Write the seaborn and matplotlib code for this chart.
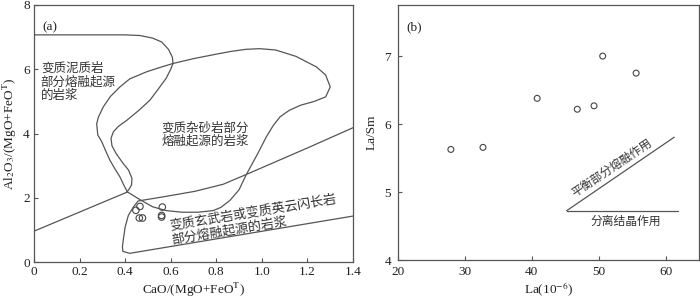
import numpy as np
import matplotlib
matplotlib.use("Agg")
import matplotlib.pyplot as plt
import seaborn as sns
import pandas as pd

# ---- panel (a): CaO/(MgO+FeOT) vs Al2O3/(MgO+FeOT) ----
ca_ratio = [0.447, 0.465, 0.462, 0.476, 0.563, 0.560, 0.560]
al_ratio = [1.61, 1.73, 1.37, 1.37, 1.71, 1.45, 1.40]

# field boundaries
pelite_x = [0.0, 0.20, 0.40, 0.465, 0.52, 0.56, 0.59, 0.607, 0.61, 0.60, 0.58, 0.545,
            0.509, 0.46, 0.407, 0.37, 0.348, 0.338, 0.342, 0.36, 0.39, 0.415, 0.43,
            0.428, 0.415, 0.407]
pelite_y = [7.07, 7.07, 7.07, 7.05, 6.97, 6.85, 6.62, 6.38, 6.18, 6.0, 5.72, 5.38,
            5.04, 4.72, 4.41, 4.22, 4.05, 3.85, 3.62, 3.38, 3.08, 2.86, 2.6,
            2.4, 2.24, 2.18]

greywacke_x = [0.61, 0.70, 0.80, 0.86, 0.93, 0.99, 1.06, 1.15, 1.24, 1.28, 1.30, 1.28,
               1.23, 1.17, 1.12, 1.08, 1.05, 1.02, 0.98, 0.93, 0.90, 0.86, 0.82, 0.786,
               0.72, 0.65, 0.58, 0.52, 0.47, 0.41, 0.395, 0.377, 0.355, 0.333, 0.315,
               0.297, 0.28, 0.275, 0.282, 0.304, 0.335, 0.377, 0.42, 0.494, 0.55, 0.61]
greywacke_y = [6.18, 6.33, 6.47, 6.55, 6.62, 6.64, 6.60, 6.40, 6.07, 5.82, 5.45, 5.14,
               5.00, 4.88, 4.72, 4.52, 4.25, 3.90, 3.35, 2.70, 2.25, 1.92, 1.70, 1.60,
               1.55, 1.55, 1.60, 1.72, 1.92, 2.18, 2.38, 2.65, 2.90, 3.17, 3.45,
               3.75, 3.95, 4.30, 4.50, 4.83, 5.15, 5.45, 5.70, 5.92, 6.05, 6.18]

left_line_x = [0.0, 0.41]
left_line_y = [0.96, 2.18]

basalt_x = [1.40, 1.20, 0.93, 0.83, 0.706, 0.56, 0.457, 0.436, 0.414, 0.40, 0.392,
            0.388, 0.39, 0.42, 1.40]
basalt_y = [4.18, 3.55, 2.72, 2.42, 2.20, 2.02, 1.90, 1.71, 1.45, 1.09, 0.70,
            0.47, 0.33, 0.27, 1.43]

a_xticks = [0, 0.2, 0.4, 0.6, 0.8, 1.0, 1.2, 1.4]
a_xlabels = ["0", "0.2", "0.4", "0.6", "0.8", "1.0", "1.2", "1.4"]
a_yticks = [0, 2, 4, 6, 8]

# ---- panel (b): La vs La/Sm ----
la = [27.9, 32.7, 40.8, 46.8, 49.3, 50.6, 55.6]
la_sm = [5.63, 5.66, 6.38, 6.22, 6.27, 7.00, 6.75]

fc_x = [45.2, 61.8]      # fractional crystallisation trend
fc_y = [4.73, 4.73]
pm_x = [45.2, 61.3]      # equilibrium partial melting trend
pm_y = [4.73, 5.81]

b_xticks = [20, 30, 40, 50, 60]
b_yticks = [4, 5, 6, 7]

sns.set_theme(style="ticks")
plt.rcParams["font.family"] = ["Liberation Serif", "Noto Sans CJK SC"]
plt.rcParams["mathtext.fontset"] = "stix"
plt.rcParams["axes.edgecolor"] = "#555555"
plt.rcParams["axes.linewidth"] = 0.9
plt.rcParams["xtick.color"] = "#555555"
plt.rcParams["ytick.color"] = "#555555"
plt.rcParams["xtick.labelcolor"] = "#222222"
plt.rcParams["ytick.labelcolor"] = "#222222"

line_c = "#555555"
text_c = "#333333"
cjk = ["Noto Sans CJK SC", "DejaVu Sans"]

fig = plt.figure(figsize=(7, 2.99), dpi=100)
ax1 = fig.add_axes([0.0486, 0.1237, 0.4557, 0.8596])
ax2 = fig.add_axes([0.5686, 0.1288, 0.4300, 0.8545])

# panel (a)
for xs, ys in [(pelite_x, pelite_y), (greywacke_x, greywacke_y),
               (left_line_x, left_line_y), (basalt_x, basalt_y)]:
    ax1.plot(xs, ys, color=line_c, lw=0.9)

df_a = pd.DataFrame({"x": ca_ratio, "y": al_ratio})
sns.scatterplot(data=df_a, x="x", y="y", ax=ax1, s=22, facecolor="none",
                edgecolor="#444444", linewidth=0.8, legend=False)

ax1.set_xlim(0, 1.4)
ax1.set_ylim(0, 8)
ax1.set_xticks(a_xticks)
ax1.set_xticklabels(a_xlabels)
ax1.set_yticks(a_yticks)
ax1.set_xlabel(r"CaO/(MgO+FeO$^\mathrm{T}$)", fontsize=9.5, color="#222222", labelpad=2)
ax1.set_ylabel(r"Al$_2$O$_3$/(MgO+FeO$^\mathrm{T}$)", fontsize=9.5, color="#222222",
               labelpad=3)
ax1.text(0.035, 7.3, "(a)", fontsize=9.5, color="#222222", va="center")

ax1.text(0.03, 6.22, "变质泥质岩\n部分熔融起源\n的岩浆", family=cjk, fontsize=9,
         color=text_c, va="top", ha="left", linespacing=1.05)
ax1.text(0.56, 4.38, "变质杂砂岩部分\n熔融起源的岩浆", family=cjk, fontsize=9,
         color=text_c, va="top", ha="left", linespacing=1.05)
ax1.text(0.594, 1.11, "变质玄武岩或变质英云闪长岩", family=cjk, fontsize=9.4,
         color=text_c, ha="left", va="center", rotation=9.3, rotation_mode="anchor")
ax1.text(0.603, 0.67, "部分熔融起源的岩浆", family=cjk, fontsize=9.4,
         color=text_c, ha="left", va="center", rotation=9.3, rotation_mode="anchor")

# panel (b)
ax2.plot(fc_x, fc_y, color=line_c, lw=0.9)
ax2.plot(pm_x, pm_y, color=line_c, lw=0.9)
df_b = pd.DataFrame({"x": la, "y": la_sm})
sns.scatterplot(data=df_b, x="x", y="y", ax=ax2, s=18, facecolor="none",
                edgecolor="#444444", linewidth=0.8, legend=False)

ax2.set_xlim(20, 65)
ax2.set_ylim(4, 7.75)
ax2.set_xticks(b_xticks)
ax2.set_yticks(b_yticks)
ax2.set_xlabel(r"La(10$^{-6}$)", fontsize=9.5, color="#222222", labelpad=2)
ax2.set_ylabel("La/Sm", fontsize=9.5, color="#222222", labelpad=5)
ax2.text(21.2, 7.42, "(b)", fontsize=9.5, color="#222222", va="center")
ax2.text(52.0, 5.36, "平衡部分熔融作用", family=cjk, fontsize=8.5, color=text_c,
         ha="center", va="center", rotation=34, rotation_mode="anchor")
ax2.text(54.0, 4.58, "分离结晶作用", family=cjk, fontsize=8.5, color=text_c,
         ha="center", va="center")

for ax in (ax1, ax2):
    ax.tick_params(direction="in", length=3, width=0.8, labelsize=9.5, pad=3)
    for sp in ax.spines.values():
        sp.set_visible(True)
ax2.tick_params(axis="y", pad=5)
ax2.tick_params(axis="x", pad=4)

fig.savefig("out.png", dpi=100)
